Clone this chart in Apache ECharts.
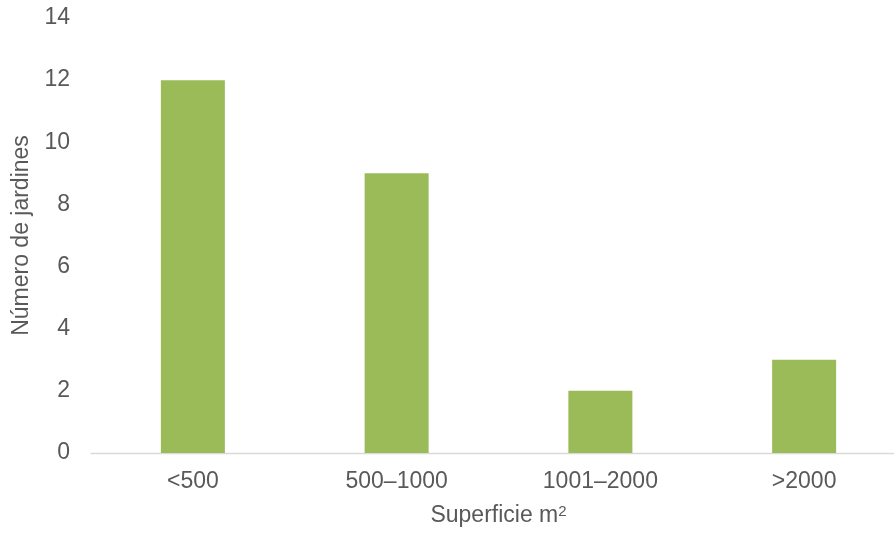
<!DOCTYPE html>
<html>
<head>
<meta charset="utf-8">
<script src="https://cdn.jsdelivr.net/npm/echarts@6/dist/echarts.min.js"></script>
<style>html,body{margin:0;padding:0;background:#fff}#c{width:894px;height:535px}</style>
</head>
<body>
<div id="c"></div>
<script>
var categories = ['<500', '500–1000', '1001–2000', '>2000'];
var values = [12, 9, 2, 3];
var yTicks = [0, 2, 4, 6, 8, 10, 12, 14];
var xTitleBase = 'Superficie m';
var xTitleSup = '2';
var yTitle = 'Número de jardines';

var chart = echarts.init(document.getElementById('c'), null, {renderer: 'canvas'});
var font = 'Liberation Sans, Arial, sans-serif';
chart.setOption({
  animation: false,
  grid: {left: 91, right: -12, top: 18, bottom: 82, containLabel: false, outerBoundsMode: 'none'},
  xAxis: {
    type: 'category',
    data: categories,
    axisLine: {lineStyle: {color: '#d9d9d9', width: 1.3}},
    axisTick: {show: false},
    axisLabel: {color: '#595959', fontSize: 23, fontFamily: font, margin: 17},
    name: xTitleBase + '{sup|' + xTitleSup + '}',
    nameLocation: 'middle',
    nameGap: 51,
    nameTextStyle: {
      color: '#595959', fontSize: 23, fontFamily: font,
      rich: {sup: {color: '#595959', fontSize: 15, fontFamily: font, verticalAlign: 'top', padding: [0, 0, 8, 0]}}
    }
  },
  yAxis: {
    type: 'value',
    min: yTicks[0],
    max: yTicks[yTicks.length - 1],
    interval: 2,
    axisLine: {show: false},
    axisTick: {show: false},
    splitLine: {show: false},
    axisLabel: {color: '#595959', fontSize: 23, fontFamily: font, margin: 21},
    name: yTitle,
    nameLocation: 'middle',
    nameGap: 53,
    nameTextStyle: {color: '#595959', fontSize: 23, fontFamily: font}
  },
  series: [{
    type: 'bar',
    data: values,
    barWidth: 64,
    itemStyle: {color: '#9BBB59'}
  }]
});
</script>
</body>
</html>
